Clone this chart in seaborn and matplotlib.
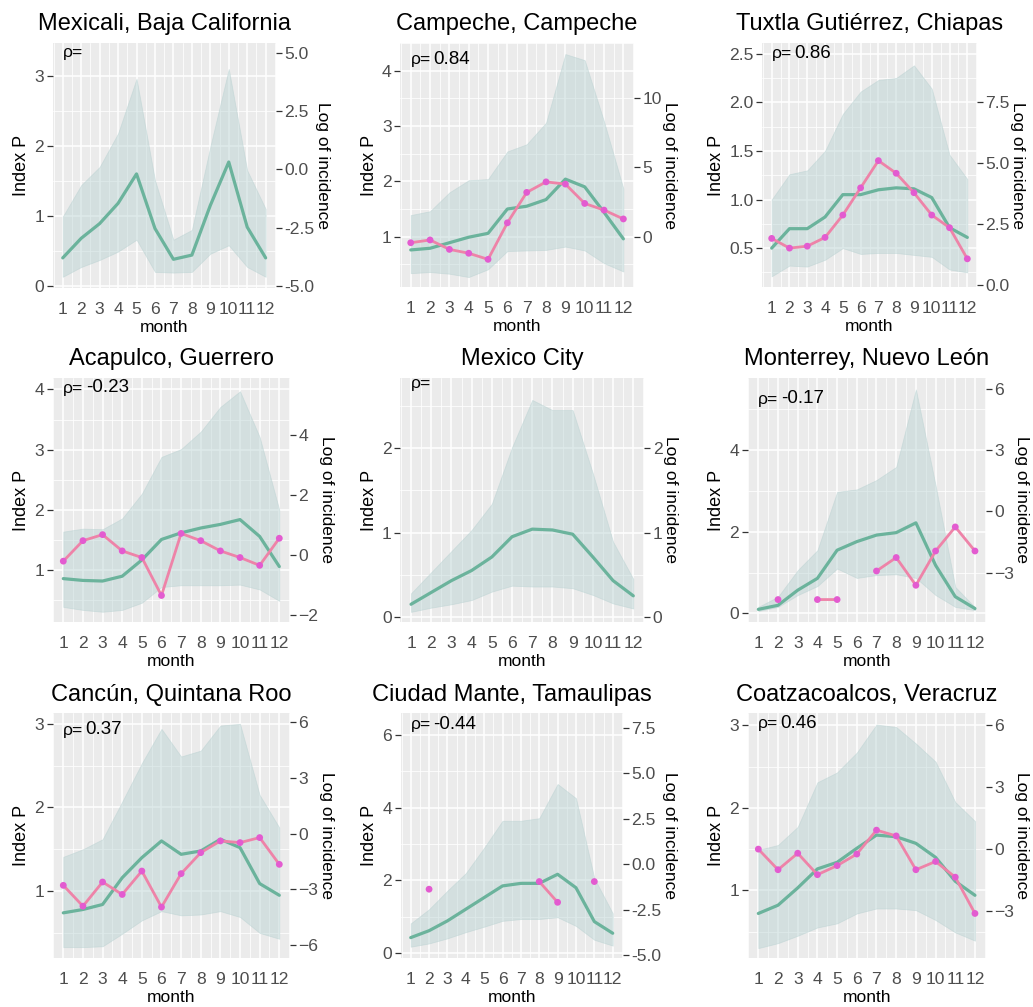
import numpy as np
import pandas as pd
import matplotlib
matplotlib.use("Agg")
import matplotlib.pyplot as plt
import seaborn as sns
from matplotlib.ticker import FixedLocator, MultipleLocator, FormatStrFormatter

sns.set_theme(style="darkgrid")
plt.rcParams['font.family'] = ['Liberation Sans', 'DejaVu Sans']

nan = np.nan
months = list(range(1, 13))

titles = ["Mexicali, Baja California", "Campeche, Campeche", "Tuxtla Gutiérrez, Chiapas",
          "Acapulco, Guerrero", "Mexico City", "Monterrey, Nuevo León",
          "Cancún, Quintana Roo", "Ciudad Mante, Tamaulipas", "Coatzacoalcos, Veracruz"]
rho_values = ["", "0.84", "0.86", "-0.23", "", "-0.17", "0.37", "-0.44", "0.46"]

# Index P: mean, lower and upper band; Log of incidence
mexicali_mean = [0.40, 0.68, 0.89, 1.18, 1.60, 0.82, 0.38, 0.44, 1.15, 1.77, 0.84, 0.40]
mexicali_low = [0.13, 0.27, 0.37, 0.49, 0.66, 0.20, 0.19, 0.20, 0.46, 0.58, 0.27, 0.13]
mexicali_high = [0.99, 1.44, 1.70, 2.18, 2.96, 1.51, 0.66, 0.80, 1.99, 3.10, 1.65, 1.10]
mexicali_log = [nan] * 12

campeche_mean = [0.76, 0.79, 0.89, 0.99, 1.06, 1.50, 1.55, 1.67, 2.04, 1.90, 1.44, 0.96]
campeche_low = [0.34, 0.36, 0.33, 0.27, 0.41, 0.74, 0.75, 0.76, 0.82, 0.75, 0.52, 0.37]
campeche_high = [1.39, 1.46, 1.80, 2.02, 2.04, 2.54, 2.67, 3.06, 4.30, 4.19, 3.08, 1.87]
campeche_log = [-0.44, -0.24, -0.92, -1.20, -1.64, 1.00, 3.20, 3.96, 3.80, 2.40, 1.92, 1.28]

tuxtla_mean = [0.50, 0.70, 0.70, 0.82, 1.05, 1.05, 1.10, 1.12, 1.11, 1.02, 0.71, 0.61]
tuxtla_low = [0.21, 0.32, 0.31, 0.38, 0.50, 0.44, 0.45, 0.45, 0.43, 0.41, 0.28, 0.25]
tuxtla_high = [1.00, 1.26, 1.30, 1.50, 1.88, 2.11, 2.23, 2.25, 2.38, 2.14, 1.46, 1.21]
tuxtla_log = [1.90, 1.50, 1.58, 1.94, 2.86, 3.98, 5.10, 4.58, 3.78, 2.86, 2.34, 1.06]

acapulco_mean = [0.86, 0.83, 0.82, 0.90, 1.17, 1.51, 1.62, 1.70, 1.76, 1.84, 1.56, 1.06]
acapulco_low = [0.39, 0.34, 0.31, 0.34, 0.46, 0.72, 0.75, 0.75, 0.75, 0.76, 0.68, 0.49]
acapulco_high = [1.64, 1.69, 1.68, 1.86, 2.27, 2.88, 3.01, 3.30, 3.71, 3.97, 3.21, 2.00]
acapulco_log = [-0.20, 0.48, 0.68, 0.14, -0.08, -1.34, 0.72, 0.48, 0.14, -0.08, -0.34, 0.56]

cdmx_mean = [0.15, 0.29, 0.43, 0.55, 0.71, 0.95, 1.04, 1.03, 0.98, 0.71, 0.43, 0.25]
cdmx_low = [0.06, 0.11, 0.15, 0.20, 0.30, 0.37, 0.36, 0.36, 0.34, 0.26, 0.16, 0.10]
cdmx_high = [0.28, 0.53, 0.78, 1.03, 1.34, 2.01, 2.57, 2.45, 2.45, 1.70, 0.89, 0.45]
cdmx_log = [nan] * 12

monterrey_mean = [0.10, 0.20, 0.57, 0.86, 1.55, 1.76, 1.92, 1.98, 2.22, 1.18, 0.41, 0.12]
monterrey_low = [0.06, 0.16, 0.45, 0.67, 1.10, 0.87, 0.94, 0.96, 0.87, 0.45, 0.16, 0.08]
monterrey_high = [0.16, 0.41, 1.06, 1.55, 2.98, 3.04, 3.27, 3.59, 5.49, 3.14, 0.65, 0.15]
monterrey_log = [nan, -4.32, nan, -4.32, -4.32, nan, -2.92, -2.26, -3.62, -1.94, -0.76, -1.94]

cancun_mean = [0.74, 0.78, 0.84, 1.16, 1.40, 1.60, 1.44, 1.48, 1.62, 1.52, 1.09, 0.95]
cancun_low = [0.33, 0.33, 0.34, 0.49, 0.65, 0.76, 0.71, 0.72, 0.76, 0.69, 0.50, 0.43]
cancun_high = [1.41, 1.50, 1.62, 2.07, 2.53, 2.94, 2.61, 2.68, 2.98, 3.00, 2.15, 1.76]
cancun_log = [-2.79, -3.91, -2.61, -3.28, -2.02, -3.96, -2.16, -1.03, -0.40, -0.49, -0.22, -1.66]

mante_mean = [0.43, 0.62, 0.89, 1.21, 1.53, 1.85, 1.92, 1.92, 2.17, 1.80, 0.87, 0.55]
mante_low = [0.18, 0.27, 0.41, 0.58, 0.73, 0.89, 0.94, 0.94, 0.99, 0.75, 0.37, 0.21]
mante_high = [0.82, 1.21, 1.72, 2.20, 2.90, 3.64, 3.64, 3.71, 4.65, 4.26, 2.06, 1.10]
mante_log = [nan, -1.38, nan, nan, nan, nan, nan, -0.96, -2.10, nan, -0.96, nan]

coatza_mean = [0.72, 0.82, 1.03, 1.26, 1.34, 1.51, 1.67, 1.65, 1.57, 1.40, 1.11, 0.94]
coatza_low = [0.30, 0.36, 0.45, 0.55, 0.60, 0.72, 0.78, 0.78, 0.76, 0.64, 0.49, 0.39]
coatza_high = [1.49, 1.55, 1.77, 2.31, 2.43, 2.67, 3.01, 2.98, 2.78, 2.56, 2.07, 1.84]
coatza_log = [0.00, -1.00, -0.20, -1.24, -0.80, -0.24, 0.92, 0.64, -1.00, -0.60, -1.36, -3.12]

means = [mexicali_mean, campeche_mean, tuxtla_mean, acapulco_mean, cdmx_mean,
         monterrey_mean, cancun_mean, mante_mean, coatza_mean]
lows = [mexicali_low, campeche_low, tuxtla_low, acapulco_low, cdmx_low,
        monterrey_low, cancun_low, mante_low, coatza_low]
highs = [mexicali_high, campeche_high, tuxtla_high, acapulco_high, cdmx_high,
         monterrey_high, cancun_high, mante_high, coatza_high]
logs = [mexicali_log, campeche_log, tuxtla_log, acapulco_log, cdmx_log,
        monterrey_log, cancun_log, mante_log, coatza_log]

# Axis scales: left ticks, right ticks and secondary-axis transform log = a*P + b
left_ticks = [[0, 1, 2, 3], [1, 2, 3, 4], [0.5, 1.0, 1.5, 2.0, 2.5], [1, 2, 3, 4], [0, 1, 2],
              [0, 2, 4], [1, 2, 3], [0, 2, 4, 6], [1, 2, 3]]
right_ticks = [[-5.0, -2.5, 0.0, 2.5, 5.0], [0, 5, 10], [0.0, 2.5, 5.0, 7.5], [-2, 0, 2, 4], [0, 1, 2],
               [-3, 0, 3, 6], [-6, -3, 0, 3, 6], [-5.0, -2.5, 0.0, 2.5, 5.0, 7.5], [-3, 0, 3, 6]]
sec_a = [3, 4, 4, 2, 1, 2, 4.5, 2, 4]
sec_b = [-5, -4, -0.5, -2.5, 0, -5, -7.6, -4.9, -6]
ylims = [(-0.03, 3.47), (0.09, 4.50), (0.10, 2.61), (0.14, 4.19), (-0.06, 2.83),
         (-0.21, 5.77), (0.20, 3.13), (-0.13, 6.60), (0.18, 3.15)]

# layout (pixels)
W, H = 1033, 1007
panel_px = [(52.6, 43, 275.8, 288), (400.1, 43, 634.0, 287), (761.9, 43, 977.1, 287),
            (52.5, 378, 290.1, 622), (399.9, 378, 644.4, 622), (747.5, 378, 985.8, 622),
            (52.5, 713, 290.1, 958), (400.6, 713, 622.8, 958), (747.5, 713, 985.8, 958)]
rho_y = [0.95, 0.92, 0.945, 0.947, 0.964, 0.90, 0.918, 0.94, 0.945]

BG = '#EBEBEB'
GREEN = '#6BB39C'
PINK_LINE = '#EE83A8'
PINK_PT = '#E35BD0'
TICKC = '#4D4D4D'
TICK_FS = 12.6
LABEL_FS = 12.5

fig = plt.figure(figsize=(W / 100, H / 100), dpi=100)

for i in range(9):
    x0, y0, x1, y1 = panel_px[i]
    ax = fig.add_axes([x0 / W, 1 - y1 / H, (x1 - x0) / W, (y1 - y0) / H])
    ax.set_facecolor(BG)
    df = pd.DataFrame({"month": months, "mean": means[i], "low": lows[i], "high": highs[i]})

    ax.fill_between(df["month"], df["low"], df["high"], facecolor='#B7D2D2', alpha=0.45,
                    edgecolor='#B5CFCF', linewidth=0.6, zorder=2)
    sns.lineplot(data=df, x="month", y="mean", ax=ax, color=GREEN, linewidth=2.3, zorder=3)

    ax.set_xlim(0.45, 12.55)
    ax.set_ylim(*ylims[i])
    ax.xaxis.set_major_locator(FixedLocator(months))
    ax.xaxis.set_minor_locator(MultipleLocator(0.5))
    lt = left_ticks[i]
    step = lt[1] - lt[0]
    ax.yaxis.set_major_locator(FixedLocator(lt))
    ax.yaxis.set_minor_locator(MultipleLocator(step / 2))
    if isinstance(lt[0], float):
        ax.yaxis.set_major_formatter(FormatStrFormatter('%.1f'))
    ax.grid(which='major', color='white', linewidth=1.1, zorder=0)
    ax.grid(which='minor', color='white', linewidth=0.55, zorder=0)
    ax.set_axisbelow(True)
    for s in ax.spines.values():
        s.set_visible(False)
    ax.tick_params(axis='both', which='major', length=4, width=0.9, color='#333333',
                   labelsize=TICK_FS, labelcolor=TICKC, pad=2)
    ax.tick_params(axis='x', which='major', pad=6)
    ax.tick_params(axis='both', which='minor', length=0)
    ax.set_xlabel("month", fontsize=LABEL_FS, color='black', labelpad=2)
    ax.set_ylabel("Index P", fontsize=13, color='black', labelpad=3)
    ax.set_title(titles[i], fontsize=17, color='black', pad=9)

    # secondary axis: log of incidence
    ax2 = ax.twinx()
    lo, hi = ylims[i]
    ax2.set_ylim(sec_a[i] * lo + sec_b[i], sec_a[i] * hi + sec_b[i])
    rt = right_ticks[i]
    ax2.yaxis.set_major_locator(FixedLocator(rt))
    if isinstance(rt[0], float):
        ax2.yaxis.set_major_formatter(FormatStrFormatter('%.1f'))
    ax2.grid(False)
    for s in ax2.spines.values():
        s.set_visible(False)
    ax2.tick_params(axis='y', which='major', length=4, width=0.9, color='#333333',
                    labelsize=TICK_FS, labelcolor=TICKC, pad=2)
    ax2.set_ylabel("Log of incidence", fontsize=LABEL_FS, color='black', rotation=270, labelpad=11)
    logv = np.array(logs[i], dtype=float)
    ax2.plot(months, logv, color=PINK_LINE, linewidth=2.0, zorder=4, solid_capstyle='round')
    dfl = pd.DataFrame({"month": months, "log": logv}).dropna()
    if len(dfl):
        sns.scatterplot(data=dfl, x="month", y="log", ax=ax2, color=PINK_PT, s=24,
                        edgecolor='none', zorder=5)
    ax2.set_xlabel("")

    # correlation annotation
    t = ax.text(1.0, rho_y[i] + 0.012, "ρ=", transform=ax.get_xaxis_transform(),
                fontsize=12.5, color='black', ha='left', va='center', zorder=6)
    if rho_values[i]:
        ax.annotate(rho_values[i], xy=(1, 0.15), xycoords=t, xytext=(1.5, -2),
                    textcoords='offset points', fontsize=13.5, color='black', ha='left',
                    va='bottom', zorder=6)

fig.savefig("out.png", dpi=100, facecolor='white')
